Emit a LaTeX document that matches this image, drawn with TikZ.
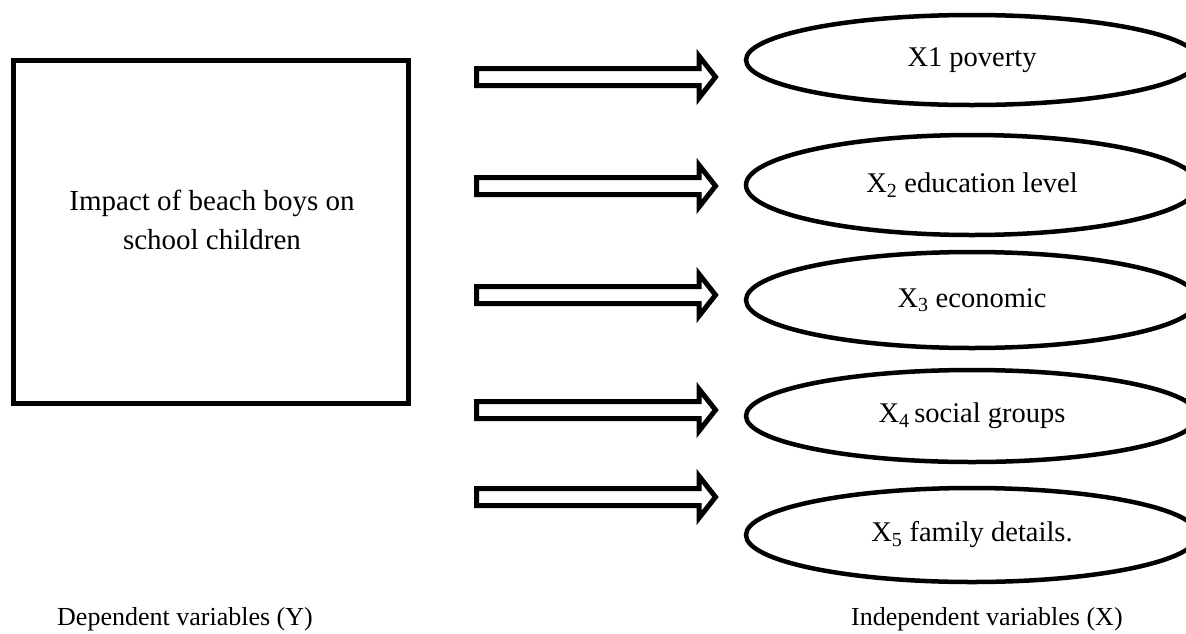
\documentclass[tikz,border=0pt]{standalone}
\usepackage{fontspec}
\setmainfont{Liberation Serif}
\usetikzlibrary{shapes.geometric}

\tikzset{
  every picture/.style={x=1pt, y=-1pt},
  depbox/.style={draw, line width=5pt, rectangle, inner sep=0pt,
                 minimum width=395pt, minimum height=343pt},
  boxtext/.style={align=center, font=\fontsize{29}{39}\selectfont},
  factor/.style={draw, line width=4.5pt, ellipse, inner sep=0pt,
                 minimum width=452pt, font=\fontsize{28.5}{34}\selectfont},
  caption/.style={anchor=base west, inner sep=0pt,
                  font=\fontsize{26}{30}\selectfont},
  blockarrow/.pic={
    \draw[line width=5pt, line join=miter]
      (0,-8.5) -- (222.5,-8.5) -- (222.5,-21) -- (239,0)
      -- (222.5,21) -- (222.5,8.5) -- (0,8.5) -- cycle;
  }
}

\begin{document}
\begin{tikzpicture}
  \useasboundingbox (0,0) rectangle (1186,633);

  % dependent variable
  \node[depbox] (dep) at (211,232) {};
  \node[boxtext] (deptext) at (212,220)
    {Impact of beach boys on\\school children};

  % block arrows
  \coordinate (a1) at (476.5,77);
  \coordinate (a2) at (476.5,186);
  \coordinate (a3) at (476.5,295);
  \coordinate (a4) at (476.5,410);
  \coordinate (a5) at (476.5,497);
  \foreach \k in {1,...,5} { \pic at (a\k) {blockarrow}; }

  % independent variables
  \node[factor, minimum height=90pt]  (x1) at (972,60)  {X1 poverty};
  \node[factor, minimum height=100pt] (x2) at (972,185) {X\textsubscript{2} education level};
  \node[factor, minimum height=96pt]  (x3) at (972,300) {X\textsubscript{3} economic};
  \node[factor, minimum height=92pt]  (x4) at (972,416) {X\textsubscript{4}\,social groups};
  \node[factor, minimum height=94pt]  (x5) at (972,535) {X\textsubscript{5} family details.};

  % captions
  \node[caption] (ylab) at (57,625) {Dependent variables (Y)};
  \node[caption] (xlab) at (851,625) {Independent variables (X)};
\end{tikzpicture}
\end{document}
